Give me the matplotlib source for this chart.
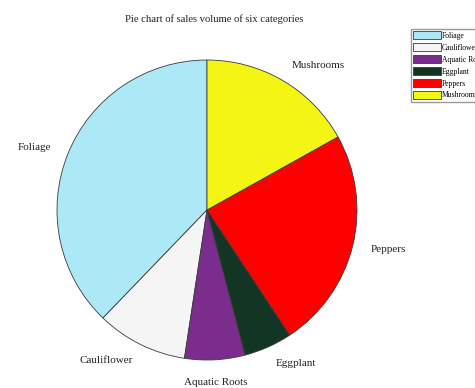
import numpy as np
import matplotlib
matplotlib.use("Agg")
import matplotlib.pyplot as plt

categories = ["Foliage", "Cauliflower", "Aquatic Roots", "Eggplant", "Peppers", "Mushrooms"]
sales = [37.8, 9.8, 6.5, 5.2, 23.8, 16.9]
colors = ["#ade8f6", "#f5f5f5", "#7b2d8e", "#133524", "#ff0000", "#f5f514"]

plt.rcParams["font.family"] = ["Liberation Serif", "DejaVu Serif"]

fig = plt.figure(figsize=(4.75, 3.88), dpi=100)
ax = fig.add_axes([57 / 475, 28 / 388, 300 / 475, 300 / 388])

wedges, texts = ax.pie(sales, labels=categories, colors=colors, startangle=90,
                       counterclock=True, labeldistance=1.12,
                       wedgeprops=dict(edgecolor="#3a3a3a", linewidth=0.6),
                       textprops=dict(fontsize=8, color="#222222"))
ax.set_xlim(-1, 1)
ax.set_ylim(-1, 1)

# labels near the bottom/top are centred horizontally
for w, t in zip(wedges, texts):
    mid = np.deg2rad((w.theta1 + w.theta2) / 2)
    if abs(np.cos(mid)) < 0.12:
        t.set_ha("center")
        t.set_va("top")

fig.text(0.45, 1 - 19 / 388, "Pie chart of sales volume of six categories",
         ha="center", va="center", fontsize=7.7, color="#222222")

leg = fig.legend(wedges, categories, loc="upper left",
                 bbox_to_anchor=(411 / 475, 1 - 29 / 388),
                 fontsize=5.5, handlelength=3.6, handleheight=1.2,
                 labelspacing=0.45, handletextpad=0.1, borderpad=0.3,
                 borderaxespad=0, fancybox=False, framealpha=1)
leg.get_frame().set_edgecolor("#999999")
leg.get_frame().set_linewidth(1.0)

fig.savefig("out.png", dpi=100)
